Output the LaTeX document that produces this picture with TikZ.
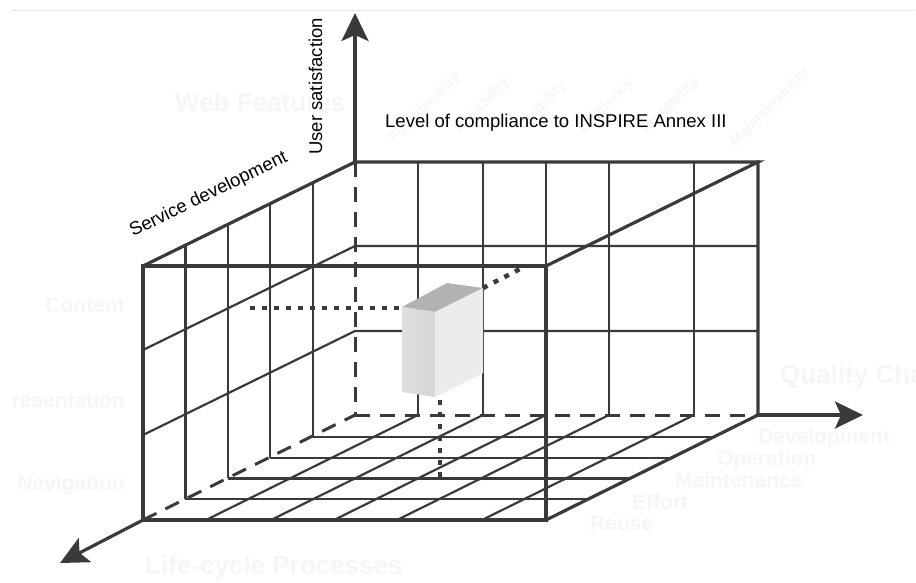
\documentclass[tikz,border=0pt]{standalone}
\usepackage{fontspec}
\setmainfont{Liberation Sans}
\usetikzlibrary{arrows.meta}
\definecolor{ink}{HTML}{3A3A3A}
\definecolor{ghost}{HTML}{F6F6F6}
\definecolor{cubetop}{HTML}{B2B2B2}
\definecolor{cubefront}{HTML}{D6D6D6}
\definecolor{cubeside}{HTML}{EBEBEB}
\begin{document}
\begin{tikzpicture}[x=1pt,y=-1pt,
  edge/.style={draw=ink,line width=3.2pt,line cap=rect,line join=miter},
  gridline/.style={draw=ink,line width=2.2pt},
  hidden/.style={draw=ink,line width=3pt,dash pattern=on 15pt off 10pt},
  dotline/.style={draw=ink,line width=4.5pt,dash pattern=on 5pt off 7pt},
  axis/.style={draw=ink,line width=3.2pt,-{Stealth[length=28pt,width=27pt,inset=6pt]}},
  lbl/.style={font=\fontsize{18.5}{20}\selectfont,text=black,inner sep=0pt},
  ghosttext/.style={font=\bfseries\fontsize{21}{24}\selectfont,text=ghost,inner sep=0pt},
  ghostbig/.style={font=\bfseries\fontsize{26}{28}\selectfont,text=ghost,inner sep=0pt},
  ghostrot/.style={font=\bfseries\fontsize{15}{17}\selectfont,text=ghost,inner sep=0pt,rotate=45}]
\useasboundingbox (0,0) rectangle (916,582);

% faint rule along the top
\draw[black!10,line width=0.8pt,dash pattern=on 6pt off 2pt] (12,10) -- (916,10);

% faint background captions
\node[ghostbig,anchor=west] (webf) at (175,102) {Web Features};
\node[ghosttext,anchor=east] (gcont) at (125,305) {Content};
\node[ghosttext,anchor=east] (gpres) at (125,400) {resentation};
\node[ghosttext,anchor=east] (gnav) at (125,485) {Navigation};
\node[ghostbig,anchor=west] (glife) at (145,568) {Life-cycle Processes};
\begin{scope}
  \clip (0,0) rectangle (916,582);
  \node[ghostbig,anchor=west] (gqual) at (780,377) {Quality Characteristics};
\end{scope}
\node[ghosttext,anchor=west] (gdev) at (758,438) {Development};
\node[ghosttext,anchor=west] (gop) at (717,460) {Operation};
\node[ghosttext,anchor=west] (gmain) at (675,480) {Maintenance};
\node[ghosttext,anchor=west] (geff) at (632,502) {Effort};
\node[ghosttext,anchor=west] (greuse) at (590,523) {Reuse};
\node[ghostrot] (gfun) at (425,108) {Functionality};
\node[ghostrot] (grel) at (482,106) {Reliability};
\node[ghostrot] (gusa) at (542,106) {Usability};
\node[ghostrot] (geffi) at (606,106) {Efficiency};
\node[ghostrot] (gport) at (670,106) {Portability};
\node[ghostrot] (gmaint) at (770,108) {Maintainability};

% box corners
\coordinate (FTL) at (143,266);
\coordinate (FTR) at (546,266);
\coordinate (FBL) at (143,520);
\coordinate (FBR) at (546,520);
\coordinate (BTL) at (355,162);
\coordinate (BTR) at (758,162);
\coordinate (BBL) at (355,415);
\coordinate (BBR) at (758,415);

% left side: vertical slices and floor rows
\foreach \k in {1,2,3,4} {
  \draw[gridline] ({143+42.4*\k},{266-20.8*\k}) -- ({143+42.4*\k},{520-20.8*\k});
  \draw[gridline] ({143+42.4*\k},{520-20.8*\k}) -- ({546+42.4*\k},{520-20.8*\k});
}
\draw[gridline] (143,350) -- (355,246) -- (758,246);
\draw[gridline] (143,435) -- (355,331) -- (758,331);

% back wall columns
\foreach \x in {418,483,609,694} {
  \draw[gridline] (\x,162) -- (\x,415);
}
\draw[gridline] (546,162) -- (546,266);

% floor diagonals
\foreach \x in {206,271,334,397,482} {
  \draw[gridline] (\x,520) -- ({\x+212},415);
}

% hidden edges
\draw[hidden] (BTL) -- (BBL);
\draw[hidden] (FBL) -- (BBL);
\draw[hidden] (BBL) -- (BBR);

% outer edges
\draw[edge] (FTL) -- (FTR) -- (FBR) -- (FBL) -- cycle;
\draw[edge] (FTL) -- (BTL) -- (BTR) -- (FTR);
\draw[edge] (BTR) -- (BBR) -- (FBR);

% axes
\coordinate (upTip) at (355,13);
\coordinate (rightTip) at (863,415);
\coordinate (leftTip) at (60,563);
\draw[axis] (BTL) -- (upTip);
\draw[axis] (BBR) -- (rightTip);
\draw[axis] (FBL) -- (leftTip);

% projection guides of the block
\draw[dotline] (250,308) -- (402,308);
\draw[dotline] (483,288) -- (524,267);
\draw[dotline] (440,400) -- (440,478);

% the block
\fill[cubetop] (402,307) -- (447,283) -- (483,288) -- (435,312) -- cycle;
\shade[left color=cubefront!80!white,right color=cubefront] (402,307) -- (435,312) -- (435,397) -- (402,392) -- cycle;
\fill[cubeside] (435,312) -- (483,288) -- (483,373) -- (435,397) -- cycle;

% axis labels
\node[lbl,rotate=90,anchor=base west] (usersat) at (322,155) {User satisfaction};
\node[lbl,rotate=26,anchor=base west] (servdev) at (133,237) {Service development};
\node[lbl,anchor=base west] (inspire) at (385,127) {Level of compliance to INSPIRE Annex III};
\end{tikzpicture}
\end{document}
